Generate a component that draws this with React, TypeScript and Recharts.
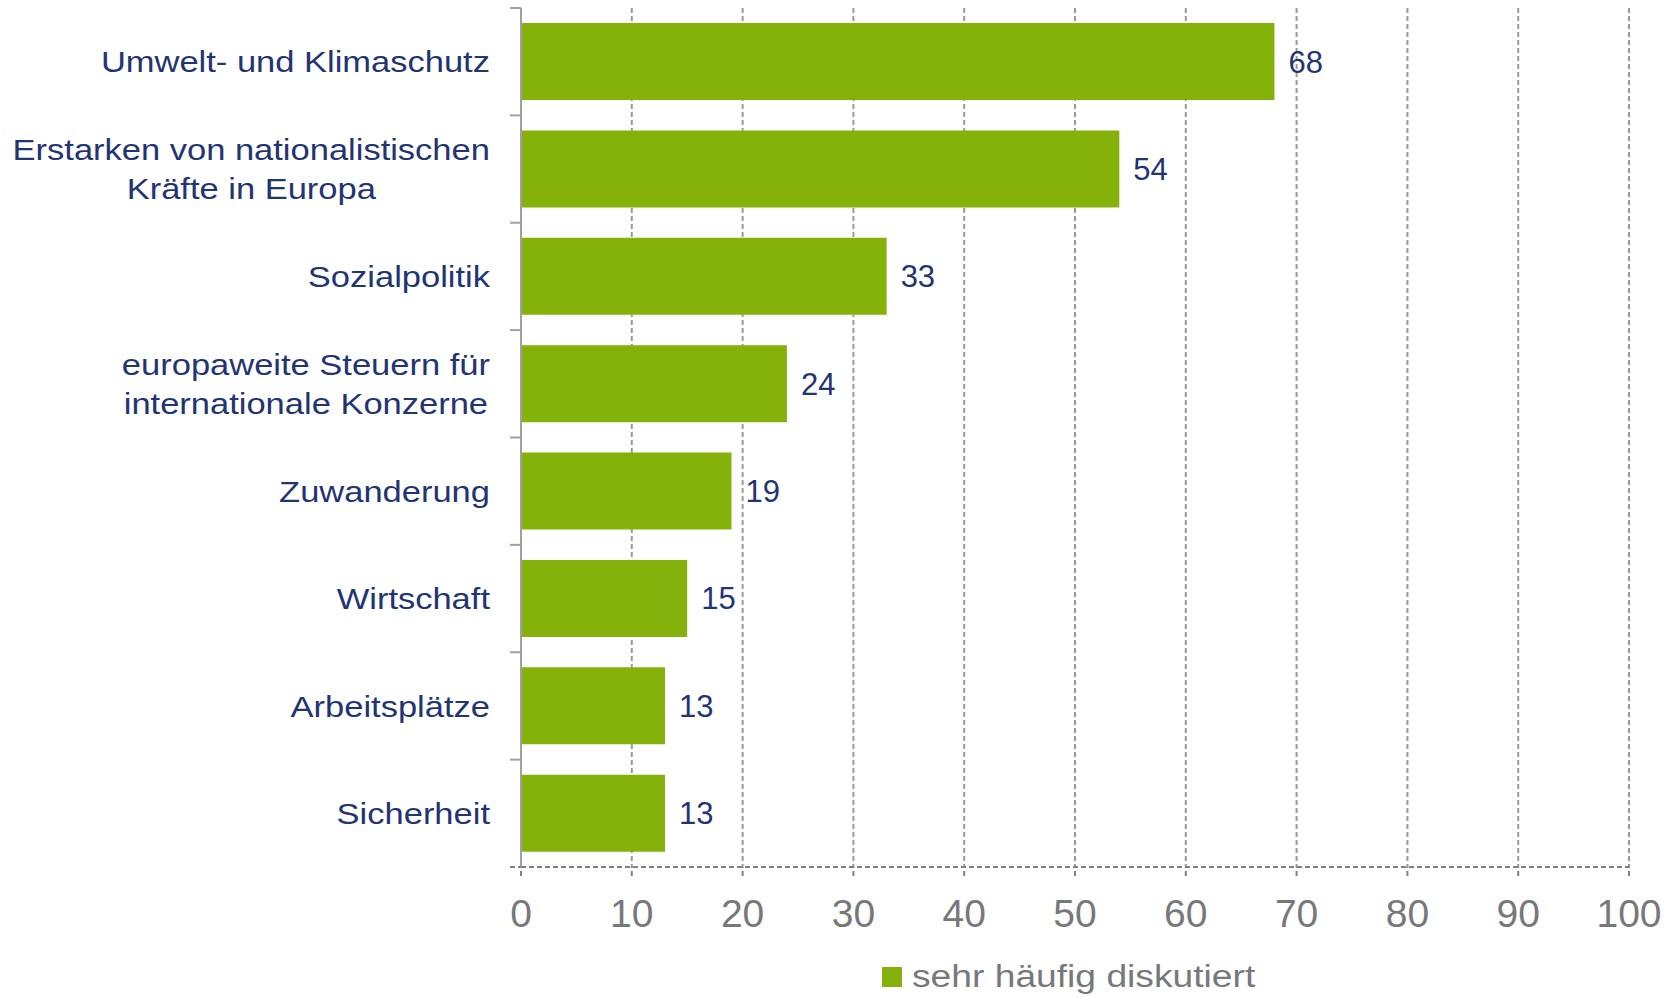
import React from 'react';
import { BarChart, Bar, XAxis, YAxis, CartesianGrid, LabelList, Legend } from 'recharts';

const categories = [
    'Umwelt- und Klimaschutz',
    'Erstarken von nationalistischen\nKräfte in Europa',
    'Sozialpolitik',
    'europaweite Steuern für\ninternationale Konzerne',
    'Zuwanderung',
    'Wirtschaft',
    'Arbeitsplätze',
    'Sicherheit',
];
const values = [68, 54, 33, 24, 19, 15, 13, 13];
const xTicks = [0, 10, 20, 30, 40, 50, 60, 70, 80, 90, 100];
const seriesName = 'sehr häufig diskutiert';

const data = categories.map((name, i) => ({ name, value: values[i] }));

const FONT = '"Liberation Sans", Arial, sans-serif';
const NAVY = '#233472';
const GRAY_TEXT = '#77787b';
const GREEN = '#84b20b';
const AXIS_X = 521;
const LABEL_RIGHT = 490;
const PLOT_TOP = 8;
const PLOT_BOTTOM = 867;
const BAND = (PLOT_BOTTOM - PLOT_TOP) / categories.length;
const LABEL_SIZE = 30;
const STRETCH = 1.15;

let ctx: CanvasRenderingContext2D | null = null;
const measure = (s: string) => {
    if (!ctx) {
        ctx = document.createElement('canvas').getContext('2d');
    }
    if (!ctx) return s.length * LABEL_SIZE * 0.5;
    ctx.font = `${LABEL_SIZE}px "Liberation Sans", Arial, sans-serif`;
    return ctx.measureText(s).width;
};

const CategoryTick = (props: any) => {
    const { y, payload, index } = props;
    const lines: string[] = String(payload.value).split('\n');
    const maxW = Math.max(...lines.map(measure)) * STRETCH;
    const cx = LABEL_RIGHT - maxW / 2;
    const lineGap = 39;
    const first = y - ((lines.length - 1) * lineGap) / 2;
    return (
        <g>
            {lines.map((line, i) => (
                <g key={i} transform={`translate(${cx}, ${first + i * lineGap}) scale(${STRETCH}, 1)`}>
                    <text x={0} y={0} dy={LABEL_SIZE * 0.36} textAnchor="middle" fill={NAVY} fontSize={LABEL_SIZE} fontFamily={FONT}>
                        {line}
                    </text>
                </g>
            ))}
            <line x1={510} x2={AXIS_X} y1={y - BAND / 2} y2={y - BAND / 2} stroke="#a0a0a0" strokeWidth={2} />
            {index === categories.length - 1 && (
                <line x1={510} x2={AXIS_X} y1={y + BAND / 2} y2={y + BAND / 2} stroke="#808080" strokeWidth={2} strokeDasharray="5 3" />
            )}
        </g>
    );
};

const LegendContent = () => (
    <div style={{ height: 40, display: 'flex', alignItems: 'center', paddingLeft: 882, fontFamily: FONT }}>
        <span style={{ display: 'inline-block', width: 20, height: 20, background: GREEN, marginRight: 10 }} />
        <span style={{ display: 'inline-block', fontSize: 31, color: GRAY_TEXT, transform: 'scaleX(1.2)', transformOrigin: 'left center', whiteSpace: 'nowrap' }}>
            {seriesName}
        </span>
    </div>
);

export default function App() {
    return (
        <div style={{ position: 'absolute', left: 0, top: 0, width: 1680, height: 997, background: '#fff', fontFamily: FONT }}>
            <BarChart
                layout="vertical"
                width={1680}
                height={997}
                data={data}
                margin={{ top: PLOT_TOP, right: 51, bottom: 0, left: 0 }}
                barCategoryGap="14%"
            >
                <CartesianGrid horizontal={false} stroke="#9a9a9a" strokeWidth={2} strokeDasharray="5 3" />
                <XAxis
                    type="number"
                    domain={[0, 100]}
                    ticks={xTicks}
                    interval={0}
                    height={90}
                    tickSize={9}
                    tickMargin={23}
                    axisLine={{ stroke: '#808080', strokeWidth: 2, strokeDasharray: '5 3' }}
                    tickLine={{ stroke: '#808080', strokeWidth: 2, strokeDasharray: '5 3' }}
                    tick={{ fill: GRAY_TEXT, fontSize: 39, fontFamily: FONT }}
                />
                <XAxis
                    xAxisId="top"
                    orientation="top"
                    type="number"
                    domain={[0, 100]}
                    height={0}
                    tick={false}
                    tickLine={false}
                    axisLine={{ stroke: '#bdbdbd', strokeWidth: 2 }}
                />
                <YAxis
                    type="category"
                    dataKey="name"
                    width={AXIS_X}
                    tickLine={false}
                    axisLine={{ stroke: '#a0a0a0', strokeWidth: 2 }}
                    tick={<CategoryTick />}
                    interval={0}
                />
                <Legend verticalAlign="bottom" height={40} content={<LegendContent />} />
                <Bar dataKey="value" name={seriesName} fill={GREEN} isAnimationActive={false}>
                    <LabelList dataKey="value" position="right" offset={14} fill={NAVY} fontSize={31} fontFamily={FONT} />
                </Bar>
            </BarChart>
        </div>
    );
}
